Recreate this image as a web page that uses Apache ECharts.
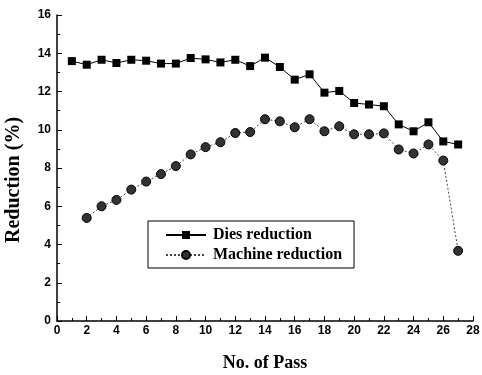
<!DOCTYPE html>
<html>
<head>
<meta charset="utf-8">
<script src="https://cdn.jsdelivr.net/npm/echarts@6/dist/echarts.min.js"></script>
<style>
  html, body { margin: 0; padding: 0; background: #fff; }
  #chart { width: 482px; height: 375px; }
</style>
</head>
<body>
<div id="chart"></div>
<script>
  // 数据
  const passes = [1, 2, 3, 4, 5, 6, 7, 8, 9, 10, 11, 12, 13, 14, 15, 16, 17, 18, 19, 20, 21, 22, 23, 24, 25, 26, 27]
  const diesReduction = [13.59, 13.40, 13.66, 13.49, 13.66, 13.61, 13.46, 13.46, 13.75, 13.68, 13.52, 13.66, 13.33, 13.77,
    13.28, 12.62, 12.90, 11.94, 12.03, 11.40, 11.32, 11.23, 10.28, 9.92, 10.39, 9.39, 9.23]
  const machinePasses = [2, 3, 4, 5, 6, 7, 8, 9, 10, 11, 12, 13, 14, 15, 16, 17, 18, 19, 20, 21, 22, 23, 24, 25, 26, 27]
  const machineReduction = [5.39, 6.00, 6.33, 6.87, 7.29, 7.68, 8.10, 8.71, 9.09, 9.35, 9.83, 9.88, 10.55,
    10.44, 10.13, 10.55, 9.92, 10.18, 9.76, 9.76, 9.81, 8.97, 8.76, 9.23, 8.39, 3.67]

  const chart = echarts.init(document.getElementById('chart'))

  const tickFont = { fontFamily: 'Liberation Sans', fontWeight: 'bold', fontSize: 12, color: '#000' }
  const serifBold = { fontFamily: 'Liberation Serif', fontWeight: 'bold', color: '#000' }

  const options = {
    animation: false,
    grid: { left: 57, right: 9, top: 15, bottom: 54, outerBoundsMode: 'none' },
    xAxis: {
      type: 'value',
      min: 0,
      max: 28,
      interval: 2,
      name: 'No. of Pass',
      nameLocation: 'middle',
      nameGap: 33,
      nameTextStyle: { ...serifBold, fontSize: 18 },
      axisLine: { lineStyle: { color: '#000', width: 1.5 } },
      axisTick: { inside: true, length: 5, lineStyle: { color: '#000' } },
      minorTick: { show: true, splitNumber: 2, length: 3, lineStyle: { color: '#000' } },
      axisLabel: { ...tickFont, margin: 4 },
      splitLine: { show: false }
    },
    yAxis: {
      type: 'value',
      min: 0,
      max: 16,
      interval: 2,
      name: 'Reduction (%)',
      nameLocation: 'middle',
      nameGap: 33,
      nameTextStyle: { ...serifBold, fontSize: 20, padding: [0, 24, 0, 0] },
      axisLine: { show: true, lineStyle: { color: '#000', width: 1.5 } },
      axisTick: { show: true, inside: true, length: 5, lineStyle: { color: '#000' } },
      minorTick: { show: true, splitNumber: 2, length: 3, lineStyle: { color: '#000' } },
      axisLabel: { ...tickFont, margin: 6 },
      splitLine: { show: false }
    },
    legend: {
      orient: 'vertical',
      left: 148,
      top: 221,
      padding: [6, 12, 5, 17],
      itemWidth: 40,
      itemHeight: 10,
      itemGap: 4,
      borderColor: '#000',
      borderWidth: 1,
      textStyle: { ...serifBold, fontSize: 16, padding: [0, 0, 0, 2] },
      data: ['Dies reduction', 'Machine reduction']
    },
    series: [
      {
        name: 'Dies reduction',
        type: 'line',
        data: passes.map((p, i) => [p, diesReduction[i]]),
        symbol: 'rect',
        symbolSize: 8,
        itemStyle: { color: '#000' },
        lineStyle: { color: '#000', width: 1 }
      },
      {
        name: 'Machine reduction',
        type: 'line',
        data: machinePasses.map((p, i) => [p, machineReduction[i]]),
        symbol: 'circle',
        symbolSize: 9,
        itemStyle: { color: '#333', borderColor: '#000', borderWidth: 1 },
        lineStyle: { color: '#444', width: 1, type: [2, 2] }
      }
    ]
  }

  chart.setOption(options)
</script>
</body>
</html>
